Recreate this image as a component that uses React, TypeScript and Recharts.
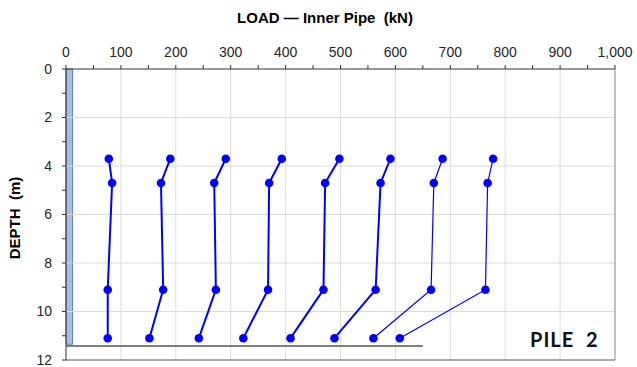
import React from 'react';
import {
  ScatterChart,
  Scatter,
  XAxis,
  YAxis,
  ReferenceLine,
  ReferenceArea,
} from 'recharts';

// Depth of each gauge level (m)
const depths = [3.7, 4.7, 9.1, 11.1];

// Load (kN) at each gauge level, one array per load step
const load1 = [78, 84, 76, 76];
const load2 = [190, 173, 177, 152];
const load3 = [291, 270, 273, 242];
const load4 = [393, 370, 368, 323];
const load5 = [498, 472, 469, 409];
const load6 = [591, 573, 564, 489];
const load7 = [686, 670, 665, 560];
const load8 = [778, 768, 764, 608];

const loadSteps = [load1, load2, load3, load4, load5, load6, load7, load8];
const lineWidths = [2, 2, 2, 2, 2, 2, 1.2, 1.2];

// Axis ticks
const loadTicks = [0, 50, 100, 150, 200, 250, 300, 350, 400, 450, 500, 550, 600, 650, 700, 750, 800, 850, 900, 950, 1000];
const depthTicks = [0, 1, 2, 3, 4, 5, 6, 7, 8, 9, 10, 11, 12];
const loadGrid = [100, 200, 300, 400, 500, 600, 700, 800, 900];
const depthGrid = [2, 4, 6, 8, 10];

// Pile and ground reference
const pileWidth = 12;
const pileToe = 11.35;
const groundLevel = 11.42;
const groundEnd = 650;

const blue = '#0000ff';
const font = '"Liberation Sans", Arial, sans-serif';

const Dot = (props: any) => {
  const { cx, cy } = props;
  if (cx == null || cy == null) return null;
  return <circle cx={cx} cy={cy} r={4.3} fill={blue} />;
};

export default function App() {
  const series = loadSteps.map((arr) => arr.map((x, i) => ({ x, y: depths[i] })));
  return (
    <div style={{ position: 'absolute', left: 0, top: 0, width: 637, height: 367, background: '#fff', fontFamily: font }}>
      <ScatterChart width={637} height={367} margin={{ top: 40, right: 22, bottom: 7, left: 26 }}>
        <XAxis
          type="number"
          dataKey="x"
          orientation="top"
          domain={[0, 1000]}
          ticks={loadTicks}
          height={29}
          interval={0}
          allowDataOverflow
          tickFormatter={(v: number) => (v % 100 === 0 ? v.toLocaleString('en-US') : '')}
          tick={{ fontSize: 14, fill: '#262626', fontFamily: font }}
          tickSize={4}
          tickMargin={8}
          axisLine={{ stroke: '#333', strokeWidth: 1 }}
          tickLine={{ stroke: '#333' }}
        />
        <YAxis
          type="number"
          dataKey="y"
          reversed
          domain={[0, 12]}
          ticks={depthTicks}
          width={40}
          interval={0}
          allowDataOverflow
          tickFormatter={(v: number) => (v % 2 === 0 ? String(v) : '')}
          tick={{ fontSize: 14, fill: '#262626', fontFamily: font }}
          tickSize={4}
          tickMargin={10}
          axisLine={{ stroke: '#333', strokeWidth: 1 }}
          tickLine={{ stroke: '#333' }}
        />
        {loadGrid.map((v) => (
          <ReferenceLine key={'gx' + v} x={v} stroke="#dcdcdc" strokeWidth={1} ifOverflow="visible" />
        ))}
        {depthGrid.map((v) => (
          <ReferenceLine key={'gy' + v} y={v} stroke="#dcdcdc" strokeWidth={1} ifOverflow="visible" />
        ))}
        <ReferenceLine x={1000} stroke="#868686" strokeWidth={1} />
        <ReferenceLine y={12} stroke="#555" strokeWidth={1} />
        <ReferenceArea x1={0} x2={pileWidth} y1={0} y2={pileToe} fill="#a7bfdc" fillOpacity={1} stroke="#5a83b5" strokeWidth={1} ifOverflow="visible" />
        <ReferenceLine
          segment={[{ x: 0, y: groundLevel }, { x: groundEnd, y: groundLevel }]}
          stroke="#7f7f7f"
          strokeWidth={2}
          ifOverflow="visible"
        />
        {series.map((d, i) => (
          <Scatter
            key={i}
            data={d}
            line={{ stroke: blue, strokeWidth: lineWidths[i] }}
            lineType="joint"
            shape={<Dot />}
            fill={blue}
            isAnimationActive={false}
          />
        ))}
      </ScatterChart>
      <div
        style={{
          position: 'absolute',
          left: 0,
          width: 650,
          top: 8,
          textAlign: 'center',
          fontWeight: 'bold',
          fontSize: 15,
          color: '#000',
          whiteSpace: 'pre',
          lineHeight: '20px',
        }}
      >
        {'LOAD — Inner Pipe  (kN)'}
      </div>
      <div
        style={{
          position: 'absolute',
          left: 15,
          top: 218,
          transform: 'translate(-50%, -50%) rotate(-90deg)',
          fontWeight: 'bold',
          fontSize: 15,
          color: '#000',
          whiteSpace: 'pre',
          lineHeight: '18px',
        }}
      >
        {'DEPTH  (m)'}
      </div>
      <div
        style={{
          position: 'absolute',
          left: 530,
          top: 326,
          fontWeight: 'bold',
          fontSize: 20,
          letterSpacing: 1,
          fontFamily: 'Lato, "Open Sans", sans-serif',
          color: '#111',
          whiteSpace: 'pre',
          lineHeight: '26px',
        }}
      >
        {'PILE  2'}
      </div>
    </div>
  );
}
